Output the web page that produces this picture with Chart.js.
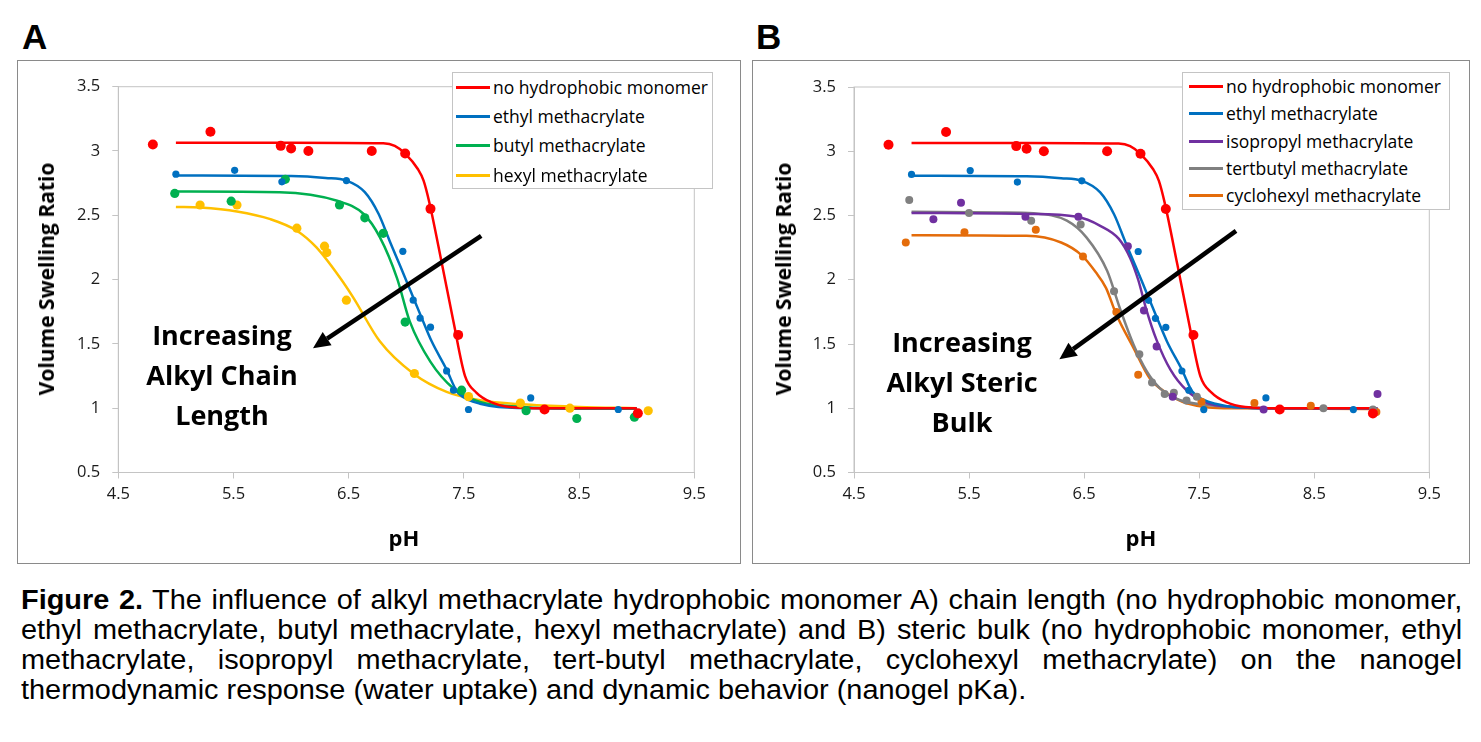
<!DOCTYPE html>
<html lang="en">
<head>
<meta charset="UTF-8">
<title>Figure 2</title>
<script src="https://cdn.jsdelivr.net/npm/chart.js@4.4.0/dist/chart.umd.min.js"></script>
<style>
  body { margin: 0; background: #fff; width: 1481px; height: 742px; position: relative; overflow: hidden; font-family: "Open Sans", sans-serif; color: #000; }
  .panel { position: absolute; top: 60px; height: 504px; box-sizing: border-box; border: 1px solid #8a8a8a; }
  .panel .box { position: absolute; left: 0; top: 0; right: 0; bottom: 0; }
  .letter { position: absolute; top: 17px; font: bold 35px "Liberation Sans", Arial, sans-serif; line-height: 40px; }
  .ytitle { position: absolute; font-weight: bold; font-size: 21px; white-space: nowrap; transform: translate(-50%, -50%) rotate(-90deg); }
  .xtitle { position: absolute; font-weight: bold; font-size: 22px; transform: translate(-50%, -50%); }
  .note { position: absolute; font-weight: bold; font-size: 27px; line-height: 40px; text-align: center; transform: translateX(-50%); white-space: nowrap; }
  .legend { position: absolute; background: #fff; border: 1px solid #c4c4c4; box-sizing: border-box; }
  .legend .row { position: relative; font-size: 17.5px; white-space: nowrap; }
  .legend .sw { position: absolute; height: 3px; width: 34px; }
  .legend .tx { position: absolute; }
  .caption { position: absolute; left: 21px; top: 585px; width: 1347px; transform: scaleX(1.07); transform-origin: 0 0; font: 27px "Liberation Sans", Arial, sans-serif; line-height: 30px; }
  .caption div { text-align: justify; text-align-last: justify; white-space: nowrap; }
  .caption div.last { text-align-last: left; }
</style>
</head>
<body>

<div class="letter" style="left:22px">A</div>
<div class="letter" style="left:756px">B</div>

<div class="panel" id="panelA" style="left:17px; width:724px"><div class="box"><canvas id="chartA"></canvas></div></div>
<div class="panel" id="panelB" style="left:752px; width:718px"><div class="box"><canvas id="chartB"></canvas></div></div>

<div class="ytitle" style="left:46px; top:279px">Volume Swelling Ratio</div>
<div class="ytitle" style="left:783px; top:279px">Volume Swelling Ratio</div>
<div class="xtitle" style="left:404px; top:537px">pH</div>
<div class="xtitle" style="left:1141px; top:537px">pH</div>

<div class="note" style="left:222px; top:315px">Increasing<br>Alkyl Chain<br>Length</div>
<div class="note" style="left:962px; top:322px">Increasing<br>Alkyl Steric<br>Bulk</div>

<div class="legend" id="legendA" style="left:452px; top:72px; width:261px; height:117px"></div>
<div class="legend" id="legendB" style="left:1182px; top:72px; width:268px; height:138px"></div>

<div class="caption">
  <div><b>Figure 2.</b> The influence of alkyl methacrylate hydrophobic monomer A) chain length (no hydrophobic monomer,</div>
  <div>ethyl methacrylate, butyl methacrylate, hexyl methacrylate) and B) steric bulk (no hydrophobic monomer, ethyl</div>
  <div>methacrylate, isopropyl methacrylate, tert-butyl methacrylate, cyclohexyl methacrylate) on the nanogel</div>
  <div class="last">thermodynamic response (water uptake) and dynamic behavior (nanogel pKa).</div>
</div>

<script>
// axis ticks
const phTicks = [4.5, 5.5, 6.5, 7.5, 8.5, 9.5];
const ratioTicks = [0.5, 1, 1.5, 2, 2.5, 3, 3.5];

// series names
const namesA = ['no hydrophobic monomer', 'ethyl methacrylate', 'butyl methacrylate', 'hexyl methacrylate'];
const namesB = ['no hydrophobic monomer', 'ethyl methacrylate', 'isopropyl methacrylate', 'tertbutyl methacrylate', 'cyclohexyl methacrylate'];

// measured points
const noneX = [4.80, 5.30, 5.91, 6.00, 6.15, 6.70, 6.99, 7.21, 7.45, 8.20, 9.01];
const noneY = [3.05, 3.15, 3.04, 3.02, 3.00, 3.00, 2.98, 2.55, 1.57, 0.99, 0.96];
const ethylX = [5.00, 5.51, 5.92, 6.48, 6.97, 7.06, 7.12, 7.21, 7.35, 7.41, 7.54, 8.08, 8.84];
const ethylY = [2.82, 2.85, 2.76, 2.77, 2.22, 1.84, 1.70, 1.63, 1.29, 1.14, 0.99, 1.08, 0.99];
const butylX = [4.99, 5.48, 5.95, 6.42, 6.64, 6.80, 6.99, 7.48, 8.04, 8.48, 8.98];
const butylY = [2.67, 2.61, 2.78, 2.58, 2.48, 2.36, 1.67, 1.14, 0.98, 0.92, 0.93];
const hexylX = [5.21, 5.53, 6.05, 6.29, 6.31, 6.48, 7.07, 7.54, 7.99, 8.42, 9.10];
const hexylY = [2.58, 2.58, 2.40, 2.26, 2.21, 1.84, 1.27, 1.09, 1.04, 1.00, 0.98];
const isoX = [5.19, 5.43, 5.99, 6.45, 6.88, 7.02, 7.13, 7.27, 8.06, 9.05];
const isoY = [2.47, 2.60, 2.49, 2.49, 2.26, 1.76, 1.48, 1.09, 0.99, 1.11];
const tertX = [4.98, 5.50, 6.04, 6.47, 6.76, 6.98, 7.09, 7.20, 7.28, 7.39, 7.48, 8.58, 9.01];
const tertY = [2.62, 2.52, 2.46, 2.43, 1.91, 1.42, 1.20, 1.11, 1.12, 1.06, 1.09, 1.00, 0.99];
const cycloX = [4.95, 5.46, 6.08, 6.49, 6.78, 6.97, 7.52, 7.98, 8.47, 9.04];
const cycloY = [2.29, 2.37, 2.39, 2.18, 1.75, 1.26, 1.05, 1.04, 1.02, 0.97];

// fitted curves
const noneFitX = [5.0, 6.0, 6.8, 6.9, 6.99, 7.1, 7.15, 7.2, 7.31, 7.41, 7.51, 7.61, 7.73, 7.9, 8.2, 9.0];
const noneFitY = [3.065, 3.065, 3.06, 3.04, 2.98, 2.86, 2.77, 2.6, 2.12, 1.67, 1.25, 1.12, 1.05, 1.01, 1.0, 1.0];
const ethylFitX = [5.0, 6.0, 6.3, 6.48, 6.64, 6.76, 6.86, 6.95, 7.04, 7.13, 7.22, 7.35, 7.44, 7.54, 7.64, 7.8, 8.2, 9.0];
const ethylFitY = [2.81, 2.805, 2.79, 2.77, 2.68, 2.51, 2.29, 2.10, 1.905, 1.71, 1.52, 1.30, 1.13, 1.065, 1.035, 1.01, 1.0, 1.0];
const butylFitX = [5.0, 5.9, 6.4, 6.63, 6.77, 6.92, 7.03, 7.21, 7.41, 7.64, 8.0, 8.5, 9.0];
const butylFitY = [2.685, 2.68, 2.613, 2.51, 2.33, 2.01, 1.675, 1.36, 1.153, 1.048, 1.01, 0.996, 0.995];
const hexylFitX = [5.0, 5.21, 5.53, 5.82, 6.05, 6.22, 6.42, 6.54, 6.77, 7.06, 7.35, 7.64, 8.0, 8.5, 9.0];
const hexylFitY = [2.565, 2.56, 2.53, 2.47, 2.38, 2.25, 2.02, 1.86, 1.52, 1.27, 1.127, 1.062, 1.03, 1.01, 1.0];
const isoFitX = [5.0, 6.0, 6.44, 6.64, 6.80, 6.90, 6.97, 7.04, 7.13, 7.25, 7.39, 7.57, 7.8, 8.2, 9.05];
const isoFitY = [2.52, 2.512, 2.49, 2.42, 2.32, 2.17, 2.00, 1.77, 1.53, 1.30, 1.14, 1.04, 1.01, 1.0, 1.0];
const tertFitX = [5.0, 5.77, 6.06, 6.35, 6.52, 6.70, 6.81, 6.93, 7.045, 7.16, 7.33, 7.57, 8.2, 9.05];
const tertFitY = [2.53, 2.524, 2.517, 2.46, 2.33, 2.07, 1.78, 1.494, 1.286, 1.155, 1.064, 1.025, 1.0, 1.0];
const cycloFitX = [5.0, 6.0, 6.3, 6.48, 6.6, 6.69, 6.78, 6.93, 7.07, 7.22, 7.39, 7.8, 9.05];
const cycloFitY = [2.347, 2.342, 2.29, 2.19, 2.06, 1.937, 1.729, 1.468, 1.233, 1.116, 1.038, 1.0, 0.995];

// arrows [pH, ratio]
const arrowA = { from: [7.65, 2.34], to: [6.19, 1.467] };
const arrowB = { from: [7.82, 2.38], to: [6.285, 1.382] };

const RED = '#ff0000', BLUE = '#0070c0', GREEN = '#00b050', YELLOW = '#ffc000';
const PURPLE = '#7030a0', GREY = '#808080', ORANGE = '#e46c0a';

function pts(xs, ys) {
  return xs.map((x, i) => ({ x: x, y: ys[i] }));
}

function dots(xs, ys, color, r) {
  return {
    type: 'scatter', data: pts(xs, ys), showLine: false, order: 1,
    backgroundColor: color, borderColor: color, borderWidth: 0,
    pointRadius: r, pointHoverRadius: r
  };
}

function curve(xs, ys, color) {
  return {
    type: 'line', data: pts(xs, ys), order: 2,
    borderColor: color, backgroundColor: color, borderWidth: 2.5,
    pointRadius: 0, cubicInterpolationMode: 'monotone', fill: false
  };
}

// light grey frame round the plot area + black arrow
const frame = {
  id: 'frame',
  beforeDatasetsDraw(chart) {
    const a = chart.chartArea, ctx = chart.ctx;
    ctx.save();
    ctx.strokeStyle = '#c4c4c4';
    ctx.lineWidth = 1;
    ctx.strokeRect(a.left, a.top, a.right - a.left, a.bottom - a.top);
    ctx.restore();
  },
  afterDatasetsDraw(chart, args, opts) {
    if (!opts.from) return;
    const sx = chart.scales.x, sy = chart.scales.y, ctx = chart.ctx;
    const x1 = sx.getPixelForValue(opts.from[0]), y1 = sy.getPixelForValue(opts.from[1]);
    const x2 = sx.getPixelForValue(opts.to[0]), y2 = sy.getPixelForValue(opts.to[1]);
    const ang = Math.atan2(y2 - y1, x2 - x1);
    const head = 17, half = 8;
    const bx = x2 - head * Math.cos(ang), by = y2 - head * Math.sin(ang);
    ctx.save();
    ctx.strokeStyle = '#000';
    ctx.fillStyle = '#000';
    ctx.lineWidth = 4.5;
    ctx.beginPath();
    ctx.moveTo(x1, y1);
    ctx.lineTo(bx, by);
    ctx.stroke();
    ctx.beginPath();
    ctx.moveTo(x2, y2);
    ctx.lineTo(bx + half * Math.sin(ang), by - half * Math.cos(ang));
    ctx.lineTo(bx - half * Math.sin(ang), by + half * Math.cos(ang));
    ctx.closePath();
    ctx.fill();
    ctx.restore();
  }
};

function makeChart(id, datasets, arrow, pad, leftW) {
  const tickFont = { family: 'Open Sans', size: 16.5 };
  return new Chart(document.getElementById(id), {
    data: { datasets: datasets },
    plugins: [frame],
    options: {
      responsive: true,
      maintainAspectRatio: false,
      animation: false,
      events: [],
      layout: { padding: pad },
      plugins: {
        legend: { display: false },
        tooltip: { enabled: false },
        frame: arrow
      },
      scales: {
        x: {
          type: 'linear', min: 4.5, max: 9.5,
          afterBuildTicks: s => { s.ticks = phTicks.map(v => ({ value: v })); },
          afterFit: s => { s.height = 90.5; },
          ticks: { color: '#1a1a1a', font: tickFont, padding: 6, maxRotation: 0, callback: v => String(v) },
          grid: { drawOnChartArea: false, drawTicks: true, tickLength: 6, color: '#c4c4c4' },
          border: { color: '#c4c4c4' }
        },
        y: {
          type: 'linear', min: 0.5, max: 3.5,
          afterBuildTicks: s => { s.ticks = ratioTicks.map(v => ({ value: v })); },
          afterFit: s => { s.width = leftW; },
          ticks: { color: '#1a1a1a', font: tickFont, padding: 12, callback: v => String(v) },
          grid: { drawOnChartArea: false, drawTicks: true, tickLength: 6, color: '#c4c4c4' },
          border: { color: '#c4c4c4' }
        }
      }
    }
  });
}

makeChart('chartA', [
  dots(noneX, noneY, RED, 5),
  dots(ethylX, ethylY, BLUE, 3.6),
  dots(butylX, butylY, GREEN, 4.6),
  dots(hexylX, hexylY, YELLOW, 4.6),
  curve(noneFitX, noneFitY, RED),
  curve(ethylFitX, ethylFitY, BLUE),
  curve(butylFitX, butylFitY, GREEN),
  curve(hexylFitX, hexylFitY, YELLOW)
], arrowA, { left: 0, top: 25.7, right: 45.7, bottom: 0 }, 100.3);

makeChart('chartB', [
  dots(noneX, noneY, RED, 5),
  dots(ethylX, ethylY, BLUE, 3.6),
  dots(isoX, isoY, PURPLE, 4),
  dots(tertX, tertY, GREY, 4),
  dots(cycloX, cycloY, ORANGE, 4),
  curve(noneFitX, noneFitY, RED),
  curve(ethylFitX, ethylFitY, BLUE),
  curve(isoFitX, isoFitY, PURPLE),
  curve(tertFitX, tertFitY, GREY),
  curve(cycloFitX, cycloFitY, ORANGE)
], arrowB, { left: 0, top: 26, right: 39.7, bottom: 0 }, 101);

// legends
function buildLegend(id, names, colors, rowH, swLeft, txLeft) {
  const box = document.getElementById(id);
  names.forEach((n, i) => {
    const row = document.createElement('div');
    row.className = 'row';
    row.style.height = rowH + 'px';
    row.style.lineHeight = rowH + 'px';
    const sw = document.createElement('div');
    sw.className = 'sw';
    sw.style.background = colors[i];
    sw.style.left = swLeft + 'px';
    sw.style.top = (rowH / 2 - 1.5) + 'px';
    const tx = document.createElement('div');
    tx.className = 'tx';
    tx.style.left = txLeft + 'px';
    tx.textContent = n;
    row.appendChild(sw);
    row.appendChild(tx);
    box.appendChild(row);
  });
}
buildLegend('legendA', namesA, [RED, BLUE, GREEN, YELLOW], 29.2, 3, 40);
buildLegend('legendB', namesB, [RED, BLUE, PURPLE, GREY, ORANGE], 27.3, 6, 43);
</script>
</body>
</html>
